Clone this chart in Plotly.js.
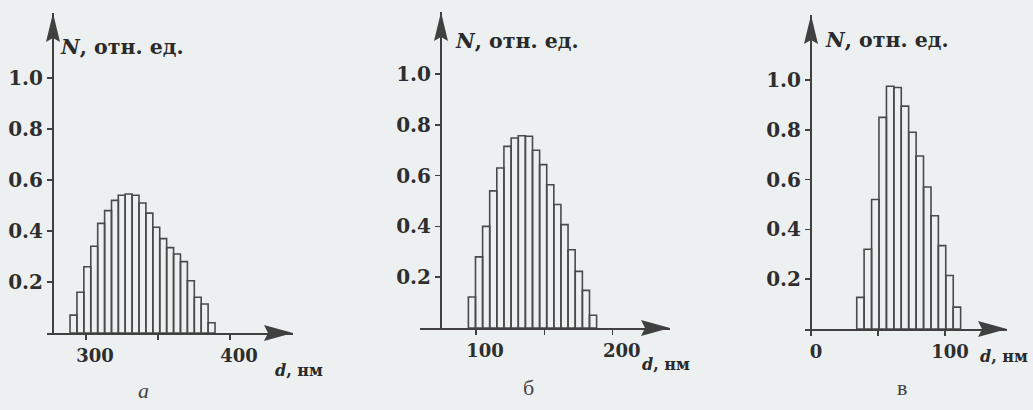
<!DOCTYPE html>
<html>
<head>
<meta charset="utf-8">
<script src="https://cdn.plot.ly/plotly-3.0.1.min.js"></script>
<style>
  html, body { margin: 0; padding: 0; background: #edf0f1; }
  #chart { width: 1033px; height: 410px; }
</style>
</head>
<body>
<div id="chart"></div>
<script>
// ---- data ----
// panel а
const diamA = [291.3, 296.1, 300.9, 305.7, 310.5, 315.3, 320.1, 324.8, 329.6, 334.4, 339.2, 344.0, 348.8, 353.6, 358.4, 363.2, 368.0, 372.8, 377.6, 382.4, 387.2];
const countA = [0.07, 0.16, 0.26, 0.34, 0.43, 0.48, 0.52, 0.54, 0.545, 0.54, 0.51, 0.47, 0.415, 0.37, 0.335, 0.31, 0.28, 0.205, 0.14, 0.114, 0.04];
// panel б
const diamB = [97.0, 102.2, 107.4, 112.6, 117.8, 123.0, 128.3, 133.5, 138.7, 143.9, 149.1, 154.3, 159.5, 164.7, 169.9, 175.2, 180.4, 185.6];
const countB = [0.122, 0.28, 0.40, 0.54, 0.63, 0.715, 0.748, 0.757, 0.755, 0.70, 0.643, 0.564, 0.486, 0.407, 0.308, 0.223, 0.148, 0.05];
// panel в
const diamC = [36.9, 42.4, 48.0, 53.5, 59.1, 64.6, 70.1, 75.7, 81.2, 86.8, 92.3, 97.8, 103.4, 108.9];
const countC = [0.127, 0.32, 0.52, 0.85, 0.975, 0.97, 0.895, 0.79, 0.695, 0.57, 0.455, 0.335, 0.215, 0.088];

// tick labels
const yTickVals = [0.2, 0.4, 0.6, 0.8, 1.0];
const yTickText = ['0.2', '0.4', '0.6', '0.8', '1.0'];
const xTickValsA = [300, 400], xTickTextA = ['300', '400'], xMinorA = [350];
const xTickValsB = [100, 200], xTickTextB = ['100', '200'], xMinorB = [150];
const xTickValsC = [0, 100],   xTickTextC = ['0', '100'],   xMinorC = [50];

const yTitle = '<i>N</i>, отн. ед.';
const xTitle = '<i>d</i>, нм';
const panelLetters = ['<i>а</i>', 'б', 'в'];

// ---- layout helpers (pixel geometry) ----
const W = 1033, H = 410;
const px = v => v / W;
const py = v => 1 - v / H;
const INK = '#404040';
const BAR = '#4a4a4a';
const SERIF = '"DejaVu Serif", "Liberation Serif", serif';
const SERIF2 = '"Liberation Serif", "DejaVu Serif", serif';

const panels = [
  { x0: 47, x1: 293, base: 333, top: 13, yAxisPx: 53, xr: [272.9, 443.75], yr: [0, 1.255], width: 4.79,
    tv: xTickValsA, tt: xTickTextA, minor: xMinorA, shift: 9, x: diamA, y: countA,
    titleX: 58, titleY: 47, xtX: 273, xtY: 370, letterX: 143, letterY: 390 },
  { x0: 420, x1: 670, base: 328, top: 12, yAxisPx: 441, xr: [59.0, 241.9], yr: [0, 1.244], width: 5.21,
    tv: xTickValsB, tt: xTickTextB, minor: xMinorB, shift: 9, x: diamB, y: countB,
    titleX: 453, titleY: 41, xtX: 640, xtY: 364, letterX: 528, letterY: 387 },
  { x0: 805, x1: 1007, base: 329, top: 15, yAxisPx: 811, xr: [-4.48, 146.3], yr: [0, 1.261], width: 5.54,
    tv: xTickValsC, tt: xTickTextC, minor: xMinorC, shift: 5, x: diamC, y: countC,
    titleX: 823, titleY: 40, xtX: 978, xtY: 356, letterX: 902, letterY: 387 }
];

const traces = [];
const layout = {
  width: W, height: H,
  margin: { l: 0, r: 0, t: 0, b: 0 },
  paper_bgcolor: '#edf0f1',
  plot_bgcolor: 'rgba(0,0,0,0)',
  showlegend: false,
  shapes: [],
  annotations: []
};

panels.forEach((p, i) => {
  const n = i === 0 ? '' : String(i + 1);
  traces.push({
    type: 'bar', x: p.x, y: p.y, width: p.width,
    xaxis: 'x' + n, yaxis: 'y' + n,
    marker: { color: 'rgba(0,0,0,0)', line: { color: BAR, width: 1.6 } },
    hoverinfo: 'x+y'
  });
  layout['xaxis' + n] = {
    domain: [px(p.x0), px(p.x1)], range: p.xr, anchor: 'y' + n,
    showline: true, linecolor: INK, linewidth: 2.2,
    showgrid: false, zeroline: false,
    ticks: 'outside', ticklen: 5, tickwidth: 1.5, tickcolor: INK,
    tickvals: p.tv, ticktext: p.tt, ticklabelshift: p.shift,
    tickfont: { family: SERIF, size: 18, color: '#2e2e2e', weight: 'bold' },
    minor: { tickvals: p.minor, ticks: 'outside', ticklen: 5, tickwidth: 1.5, tickcolor: INK, showgrid: false },
    fixedrange: true
  };
  layout['yaxis' + n] = {
    domain: [py(p.base), py(p.top)], range: p.yr,
    anchor: 'free', position: px(p.yAxisPx),
    showline: true, linecolor: INK, linewidth: 2.2,
    showgrid: false, zeroline: false,
    ticks: 'outside', ticklen: 5, tickwidth: 1.5, tickcolor: INK,
    tickvals: yTickVals, ticktext: yTickText,
    tickfont: { family: SERIF, size: 20, color: '#2e2e2e', weight: 'bold' },
    fixedrange: true
  };
  // arrow heads
  const xt = p.x1, yb = p.base;
  layout.shapes.push({
    type: 'path', xref: 'paper', yref: 'paper',
    path: `M ${px(xt)} ${py(yb)} L ${px(xt - 29)} ${py(yb - 8)} L ${px(xt - 25)} ${py(yb)} L ${px(xt - 29)} ${py(yb + 8)} Z`,
    fillcolor: INK, line: { width: 0 }
  });
  const xa = p.yAxisPx, yt = p.top;
  layout.shapes.push({
    type: 'path', xref: 'paper', yref: 'paper',
    path: `M ${px(xa)} ${py(yt)} L ${px(xa - 7)} ${py(yt + 29)} L ${px(xa)} ${py(yt + 25)} L ${px(xa + 7)} ${py(yt + 29)} Z`,
    fillcolor: INK, line: { width: 0 }
  });
  // titles
  layout.annotations.push({
    xref: 'paper', yref: 'paper', x: px(p.titleX), y: py(p.titleY),
    xanchor: 'left', yanchor: 'middle', showarrow: false, text: yTitle,
    font: { family: SERIF, size: 20.5, color: '#2a2a2a', weight: 'bold' }
  });
  layout.annotations.push({
    xref: 'paper', yref: 'paper', x: px(p.xtX), y: py(p.xtY),
    xanchor: 'left', yanchor: 'middle', showarrow: false, text: xTitle,
    font: { family: SERIF, size: 16, color: '#2a2a2a', weight: 'bold' }
  });
  layout.annotations.push({
    xref: 'paper', yref: 'paper', x: px(p.letterX), y: py(p.letterY),
    xanchor: 'center', yanchor: 'middle', showarrow: false, text: panelLetters[i],
    font: { family: SERIF2, size: 22, color: '#444' }
  });
});

Plotly.newPlot('chart', traces, layout, { displayModeBar: false, staticPlot: true });
</script>
</body>
</html>
